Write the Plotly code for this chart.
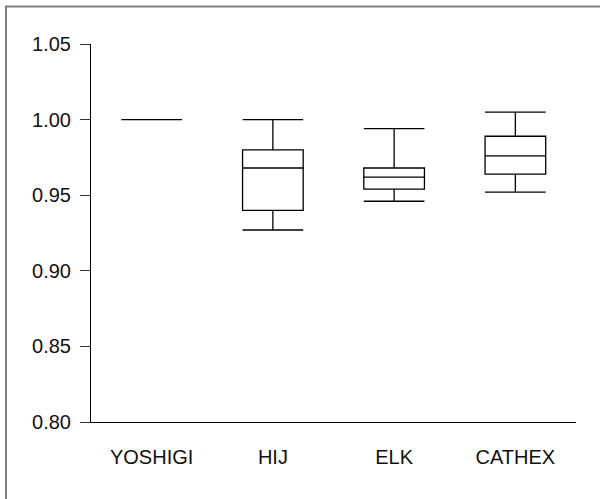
import plotly.graph_objects as go

categories = ["YOSHIGI", "HIJ", "ELK", "CATHEX"]
lower_whisker = [1.000, 0.927, 0.946, 0.952]
q1_values = [1.000, 0.940, 0.954, 0.964]
median_values = [1.000, 0.968, 0.962, 0.976]
q3_values = [1.000, 0.980, 0.968, 0.989]
upper_whisker = [1.000, 1.000, 0.994, 1.005]
y_ticks = [0.80, 0.85, 0.90, 0.95, 1.00, 1.05]

fig = go.Figure()
fig.add_trace(go.Box(
    x=categories,
    q1=q1_values,
    median=median_values,
    q3=q3_values,
    lowerfence=lower_whisker,
    upperfence=upper_whisker,
    fillcolor="rgba(255,255,255,0)",
    line=dict(color="black", width=1.3),
    whiskerwidth=1,
    width=0.5,
    boxpoints=False,
    showlegend=False,
    hoverinfo="skip",
))

L, R, T, B = 91, 24, 44, 77
pw, ph = 600 - L - R, 499 - T - B

fig.update_layout(
    width=600, height=499,
    margin=dict(l=L, r=R, t=T, b=B),
    paper_bgcolor="white", plot_bgcolor="white",
    font=dict(family="Liberation Sans, Arial, sans-serif", size=20, color="#111"),
    xaxis=dict(
        type="category", range=[-0.5, 3.5],
        showline=True, linecolor="black", linewidth=1,
        ticks="outside", ticklen=17, tickcolor="rgba(0,0,0,0)",
        showgrid=False, zeroline=False,
    ),
    yaxis=dict(
        range=[0.80, 1.05], tickvals=y_ticks, tickformat=".2f",
        showline=True, linecolor="black", linewidth=1,
        ticks="outside", ticklen=10, tickcolor="#333", tickwidth=1,
        ticklabelstandoff=5,
        showgrid=False, zeroline=False,
    ),
    shapes=[dict(
        type="rect", xref="paper", yref="paper",
        x0=(6 - L) / pw, x1=1.2, y0=-0.5, y1=(ph + T - 6.5) / ph,
        line=dict(color="#808080", width=2), fillcolor="rgba(0,0,0,0)",
        layer="below",
    )],
)

fig.write_html("out.html", config={"displayModeBar": False},
               post_script="document.body.style.margin='0';")
